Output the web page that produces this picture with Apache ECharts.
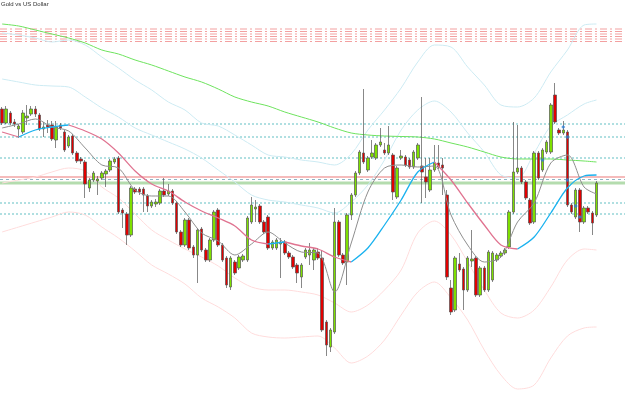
<!DOCTYPE html>
<html>
<head>
<meta charset="utf-8">
<title>Gold vs US Dollar</title>
<script src="https://cdn.jsdelivr.net/npm/echarts@6/dist/echarts.min.js"></script>
<style>
  html, body { margin: 0; padding: 0; background: #fff; }
  #chart { width: 625px; height: 405px; }
</style>
</head>
<body>
<div id="chart"></div>
<script>
// candles
const opens = [1345.5,1338.5,1343.5,1339,1335.5,1334,1341,1343,1345.5,1342.5,1335.5,1337.5,1337.5,1330,1337.5,1334,1327,1332,1323.5,1320.5,
  1319,1306,1310,1309.5,1311,1313,1315,1319,1321,1295,1293,1282.5,1305.5,1305.5,1305.5,1302,1297,1298,1298.5,1304.5,
  1303,1304.5,1298.5,1284,1277.5,1290,1276.5,1272.5,1285.5,1275,1270,1280,1295,1277.5,1271,1256.5,1269,1266,1270,1270,
  1289,1295.5,1297,1289,1291.5,1276,1276,1278,1279,1273.5,1271.5,1267.5,1261.5,1271.5,1272.5,1270,1274,1271,1239,1226.5,
  1234,1289,1272.5,1269,1292.5,1302.5,1313.5,1323.5,1315,1321.5,1321,1327.5,1325,1323.5,1322.5,1301.5,1321,1321.5,1320,1316.5,
  1321,1317,1311.5,1305,1315,1318.5,1317.5,1302.5,1256,1245,1268,1265.5,1255,1269.5,1271,1252.5,1266,1255,1260,1270,
  1272,1273.5,1276.5,1294,1314,1316,1309,1300,1289,1323.5,1315,1324,1324,1352.5,1335,1333.5,1334,1297.5,1291.5,1305,
  1289,1296,1293.5,1292.5];
const closes = [1338.5,1345.5,1338.5,1338,1337,1343.5,1342,1345.5,1343,1335.5,1336.5,1336.5,1330.5,1336.5,1336,1325,1331.5,1323.5,1319.5,1319.5,
  1308,1310,1313.5,1310.5,1313.5,1314.5,1319.5,1320.5,1294,1293.5,1282.5,1306,1304,1304,1302.5,1297,1299,1299,1304.5,1302.5,
  1304.5,1298.5,1284,1277.5,1290,1276,1272.5,1285,1275,1270,1280,1294,1277.5,1270,1257.5,1271,1263.5,1271.5,1272,1291,
  1297.5,1296.5,1289,1284,1276,1279,1280,1279,1273.5,1271.5,1266.5,1263.5,1267.5,1275,1275,1275,1271,1235,1227.5,1235,
  1289,1272.5,1268.5,1292.5,1302.5,1313.5,1324,1319,1321,1323.5,1327.5,1329,1323.5,1327.5,1304,1316,1322,1317.5,1316.5,1324,
  1327.5,1314,1309,1315,1318.5,1316.5,1316,1261.5,1244,1271,1265,1255,1271,1270.5,1252.5,1266,1255,1274,1273.5,1272.5,
  1273.5,1275,1294,1314,1316,1309,1301,1288.5,1323.5,1311,1325,1329,1347.5,1339,1333.5,1335,1297.5,1294,1305,1289,
  1296,1294,1288.5,1308.5];
const lows = [1337.5,1338,1337.5,1336.5,1331,1333,1337.5,1342,1341.5,1334.5,1331.5,1333.5,1329.5,1326,1335,1324,1326,1322.5,1318.5,1318,
  1301,1304,1309,1302.5,1310,1306.5,1314,1318,1293,1286,1277.5,1281.5,1303,1302.5,1294,1294,1296,1296.5,1297.5,1301.5,
  1302,1297.5,1283,1276.5,1276.5,1275,1271,1258.5,1274,1269,1269,1279,1276.5,1269,1256,1255,1262.5,1265,1269,1269,
  1288,1289,1288,1283,1275,1275,1275,1261,1272.5,1270.5,1265.5,1258.5,1256,1270.5,1267.5,1265,1270,1234,1222,1224,
  1233,1271.5,1267.5,1257.5,1290,1301.5,1312.5,1318,1314,1320.5,1320,1326.5,1322.5,1322.5,1300,1300.5,1320,1316.5,1315.5,1315.5,
  1320,1298.5,1301,1304,1314,1315.5,1302.5,1260,1242.5,1244,1264,1245,1254,1266.5,1251.5,1251.5,1254,1254,1259,1269,
  1271,1272.5,1275.5,1293,1313,1308,1300,1287.5,1288,1310,1314,1323,1323,1338,1332.5,1332.5,1296.5,1293,1290.5,1284,
  1288,1293,1282.5,1291.5];
const highs = [1346.5,1347,1344.5,1340.5,1338,1345,1347.5,1347,1347,1343.5,1339,1340,1339.5,1339.5,1338.5,1335,1332.5,1333,1324.5,1321.5,
  1320,1311,1314.5,1312,1314.5,1315.5,1320.5,1321.5,1322,1296,1294,1307,1306.5,1306.5,1306.5,1303,1300,1300.5,1305.5,1311,
  1308,1305.5,1299.5,1285,1291,1291,1277.5,1286,1286.5,1276,1281,1295,1296,1278.5,1272,1272,1270,1272.5,1273,1292,
  1301.5,1300,1298,1290,1292.5,1280,1281,1281,1280,1274.5,1272.5,1268.5,1268.5,1276,1278.5,1276,1276,1275,1240,1236,
  1296,1290,1273.5,1293.5,1303.5,1314.5,1325,1355.5,1322,1330,1328.5,1336,1328.5,1337,1323.5,1317,1325,1322.5,1321,1325,
  1328.5,1351.5,1321,1321,1327.5,1327.5,1321,1305,1260,1272,1273.5,1266.5,1272,1285,1272,1267,1267,1275,1274.5,1273.5,
  1274.5,1276,1295,1339,1337.5,1317,1310,1301,1324.5,1324.5,1326,1330,1348.5,1358.5,1336,1339.5,1335,1298.5,1306,1306,
  1297,1297,1294.5,1309.5];

// indicator lines, read every 4th bar
const sampleIdx = [0,4,8,12,16,20,24,28,32,36,40,44,48,52,56,60,64,68,72,76,80,84,88,92,96,100,104,108,112,116,120,124,128,132,136,140,143];
const longMa = [1388,1387,1385,1383,1381,1378.5,1375,1373,1370,1367.5,1364.5,1361.5,1359,1355.5,1351.5,1349,1347,1344,1341.5,1339,
  1336,1333.5,1332.5,1332,1331.75,1331.5,1330.5,1328.5,1326.5,1324,1321.5,1320.5,1320.5,1320.5,1320,1319.5,1319];
const shortMa = [1336,1338,1340.5,1336.5,1334.5,1326,1317.5,1316,1305,1302,1302,1294,1283.5,1279.5,1272.5,1278,1284,1278.5,1274,1273.5,
  1254,1278.5,1304,1316,1317.5,1316.5,1317,1292.5,1277.5,1269,1271.5,1289,1298.5,1318.5,1322.5,1306.5,1303];
const midBand = [1334,1331.5,1335,1336.5,1337.5,1334.5,1330.5,1323.5,1314.5,1308,1304.5,1299,1294.5,1291,1287,1280,1278,1279,1277,1275.5,
  1271.5,1269,1276,1287.5,1300,1314,1319,1310,1298.5,1287.5,1277.5,1275.5,1281.5,1293.5,1306,1312,1312.5];
const upperOuter = [1383.5,1382.5,1381,1379,1380,1377.5,1371.5,1366,1360,1355,1349,1345,1338.5,1337,1332.5,1327.5,1322.5,1321.5,1320,1319,
  1317.5,1323,1335,1345,1356,1369,1377.5,1376.5,1366.5,1357.5,1347.5,1346.5,1351,1364,1375,1387.5,1388];
const upperInner = [1360.5,1359,1357.5,1357,1356.5,1351.5,1346,1341.5,1336,1332.5,1329,1325.5,1321,1315,1309,1302.5,1300,1299,1297.5,1296,
  1293.5,1299,1307.5,1320,1335,1345,1349.5,1344,1333.5,1324,1312.5,1311,1323.5,1337,1342.5,1348,1350];
const lowerInner = [1308.5,1310,1311.5,1314,1316,1314.5,1306.5,1301,1293,1285,1280,1275.5,1271.5,1267,1261,1256.5,1255,1255,1254,1252.5,
  1248.5,1244,1247.5,1255,1265,1283.5,1289.5,1282.5,1269,1255,1243.5,1241,1245,1256.5,1270,1275.5,1275];
const lowerOuter = [1284,1286.5,1289,1291.5,1294,1292.5,1286.5,1281,1274.5,1267.5,1263,1258,1251,1246.5,1241,1233.5,1231.5,1231,1231.5,1232,
  1226,1218.5,1222,1230,1242.5,1254,1259,1251,1240,1225,1212.5,1205.5,1207.5,1221,1232,1236,1236.5];

// horizontal levels
const dashDotLevels = [1385.5, 1384.25, 1383, 1381.75, 1380.5, 1379.25];
const dottedLevels = [1338, 1331.5, 1321, 1298.5, 1293];
const redLevel = 1311.5;
const dashedLevel = 1310.25;
const greenLevel = 1308.5;

// small blue markers [bar, price]
const markers = [[130, 1320], [135, 1336.5], [136, 1331.5], [136, 1310], [138, 1297], [139, 1291.5]];

const bars = opens.map((_, i) => i);
const pts = arr => arr.map((v, k) => [sampleIdx[k], v]);

const chart = echarts.init(document.getElementById("chart"));

const lineSeries = (data, color, z, width) => ({
  type: "line",
  xAxisIndex: 1,
  yAxisIndex: 0,
  data: pts(data),
  symbol: "none",
  smooth: 0.3,
  silent: true,
  z: z,
  lineStyle: { color: color, width: width || 1 }
});

// mid band coloured by direction
const runs = [];
for (let k = 0; k < midBand.length - 1; k++) {
  const up = midBand[k + 1] >= midBand[k];
  const last = runs[runs.length - 1];
  if (last && last.up === up) last.pts.push([sampleIdx[k + 1], midBand[k + 1]]);
  else runs.push({ up, pts: [[sampleIdx[k], midBand[k]], [sampleIdx[k + 1], midBand[k + 1]]] });
}

const levelSeries = (lvl, color, type, width) => ({
  type: "line",
  xAxisIndex: 2,
  yAxisIndex: 1,
  data: [[0, lvl], [1, lvl]],
  symbol: "none",
  silent: true,
  z: 1,
  lineStyle: { color: color, type: type, width: width }
});

const series = [];
dashDotLevels.forEach(l => series.push(levelSeries(l, "#f3a0a0", [7, 3, 2, 3], 1)));
dottedLevels.forEach(l => series.push(levelSeries(l, "#63c0c4", [2, 2], 1)));
series.push(levelSeries(greenLevel, "#b4dcae", "solid", 3));
series.push(levelSeries(redLevel, "#f2a4a4", "solid", 1.5));
series.push(levelSeries(dashedLevel, "#8fb6c6", [3, 3], 1));

series.push(lineSeries(upperOuter, "#cdebf3", 2));
series.push(lineSeries(upperInner, "#cdebf3", 2));
series.push(lineSeries(lowerInner, "#ffdcdc", 2));
series.push(lineSeries(lowerOuter, "#ffdcdc", 2));
series.push(lineSeries(longMa, "#6ee35e", 2));

series.push({
  type: "candlestick",
  xAxisIndex: 0,
  yAxisIndex: 0,
  data: opens.map((o, i) => [o, closes[i], lows[i], highs[i]]),
  barWidth: 3,
  z: 3,
  itemStyle: {
    color: "#7ee000",
    color0: "#e20000",
    borderColor: "#555",
    borderColor0: "#555",
    borderWidth: 0.7
  }
});

series.push(lineSeries(shortMa, "#8e8e8e", 4));
runs.forEach(r => series.push({
  type: "line",
  xAxisIndex: 1,
  yAxisIndex: 0,
  data: r.pts,
  symbol: "none",
  smooth: 0.3,
  silent: true,
  z: 5,
  lineStyle: { color: r.up ? "#1ab2ef" : "#e07390", width: 1.3 }
}));

series.push({
  type: "scatter",
  xAxisIndex: 1,
  yAxisIndex: 0,
  data: markers,
  symbol: "diamond",
  symbolSize: 4,
  z: 6,
  itemStyle: { color: "#2d7fd6" }
});

chart.setOption({
  animation: false,
  title: {
    text: "Gold vs US Dollar",
    left: 1,
    top: 1,
    padding: 0,
    textStyle: { fontSize: 6, fontWeight: "normal", color: "#333", fontFamily: "Liberation Sans" }
  },
  grid: [
    { left: -1.4, right: 26.4, top: 0, bottom: 0 },
    { left: 0, right: 0, top: 0, bottom: 0 }
  ],
  xAxis: [
    { type: "category", gridIndex: 0, data: bars, show: false },
    { type: "value", gridIndex: 0, min: -0.5, max: bars.length - 0.5, show: false },
    { type: "value", gridIndex: 1, min: 0, max: 1, show: false }
  ],
  yAxis: [
    { type: "value", gridIndex: 0, min: 1197.5, max: 1400, show: false },
    { type: "value", gridIndex: 1, min: 1197.5, max: 1400, show: false }
  ],
  series: series
});
</script>
</body>
</html>
